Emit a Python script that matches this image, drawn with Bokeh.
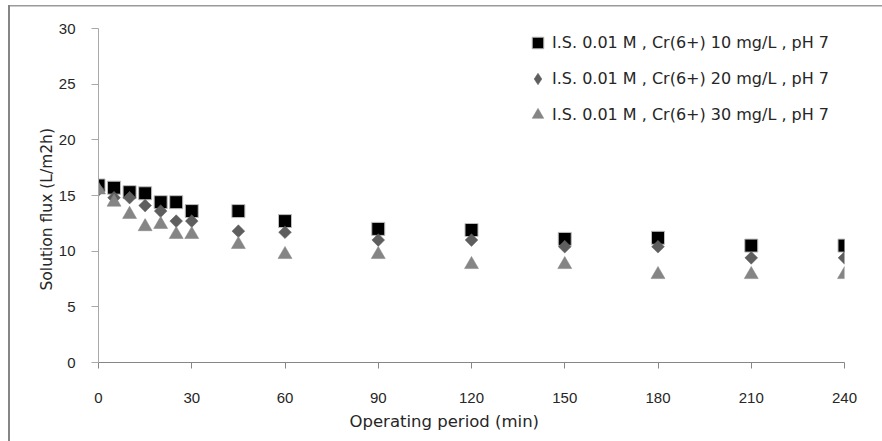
from bokeh.plotting import figure
from bokeh.models import FixedTicker, Legend, LegendItem, ColumnDataSource, Title
from bokeh.embed import file_html
from bokeh.resources import INLINE
import math

# ---- data ----
time_min = [0, 5, 10, 15, 20, 25, 30, 45, 60, 90, 120, 150, 180, 210, 240]
flux_10 = [15.9, 15.7, 15.3, 15.2, 14.4, 14.4, 13.6, 13.6, 12.7, 12.0, 11.9, 11.1, 11.2, 10.5, 10.5]
flux_20 = [15.5, 14.8, 14.8, 14.1, 13.6, 12.7, 12.7, 11.8, 11.7, 11.0, 11.0, 10.4, 10.4, 9.4, 9.4]
flux_30 = [15.5, 14.4, 13.3, 12.2, 12.4, 11.5, 11.5, 10.6, 9.7, 9.7, 8.8, 8.8, 7.9, 7.9, 7.9]
series_labels = [
    "I.S. 0.01 M , Cr(6+) 10 mg/L , pH 7",
    "I.S. 0.01 M , Cr(6+) 20 mg/L , pH 7",
    "I.S. 0.01 M , Cr(6+) 30 mg/L , pH 7",
]
x_ticks = [0, 30, 60, 90, 120, 150, 180, 210, 240]
y_ticks = [0, 5, 10, 15, 20, 25, 30]
x_title = "Operating period (min)"
y_title = "Solution  flux (L/m2h)"

FONT_NUM = "Liberation Sans"
FONT_TXT = "DejaVu Sans"
TXT_COLOR = "#262626"
C_SQ, C_DI, C_TR = "black", "#5e5e5e", "#858585"

p = figure(
    width=882, height=441,
    x_range=(0, 240), y_range=(0, 30),
    output_backend="svg", toolbar_location=None,
    min_border_left=98, min_border_right=38, min_border_top=28, min_border_bottom=79,
)
p.styles = {
    "background-color": "white",
    "background-image": "linear-gradient(#858585, #858585), linear-gradient(#9a9a9a, #9a9a9a)",
    "background-size": "2px 440px, 874px 1.5px",
    "background-position": "8px 5px, 8px 5px",
    "background-repeat": "no-repeat",
}
p.border_fill_color = None
p.background_fill_color = "white"
p.outline_line_color = None
p.grid.visible = False

src = ColumnDataSource(dict(t=time_min, a=flux_10, b=flux_20, c=flux_30))

r1 = p.scatter("t", "a", source=src, marker="square", size=13,
               fill_color=C_SQ, line_color="#bdbdbd", line_width=1)
r2 = p.scatter("t", "b", source=src, marker="square", size=9, angle=math.pi / 4,
               fill_color=C_DI, line_color=C_DI, line_width=0.5)
r3 = p.scatter("t", "c", source=src, marker="triangle", size=14,
               fill_color=C_TR, line_color=C_TR, line_width=0.5)
# legend-only swatch for the diamond series (legend markers are drawn unrotated)
r2_key = p.scatter(x=[float("nan")], y=[float("nan")], marker="diamond",
                   fill_color=C_DI, line_color=C_DI, line_width=0.5)

# axes
xa = p.xaxis[0]
xa.ticker = FixedTicker(ticks=x_ticks)
xa.axis_line_color = "#868686"
xa.major_tick_line_color = "#868686"
xa.major_tick_out = 6
xa.major_tick_in = 0
xa.minor_tick_line_color = None
xa.major_label_text_font = FONT_NUM
xa.major_label_text_font_size = "15px"
xa.major_label_text_color = TXT_COLOR
xa.major_label_standoff = 24

ya = p.yaxis[0]
ya.ticker = FixedTicker(ticks=y_ticks)
ya.axis_line_color = "#a8a8a8"
ya.major_tick_line_color = "#a8a8a8"
ya.major_tick_out = 7
ya.major_tick_in = 0
ya.minor_tick_line_color = None
ya.major_label_text_font = FONT_NUM
ya.major_label_text_font_size = "15px"
ya.major_label_text_color = TXT_COLOR
ya.major_label_standoff = 16

# axis titles as side titles (allow an off-centre position like the reference)
p.add_layout(Title(text=x_title, align="left", offset=251, standoff=8,
                   text_font=FONT_TXT, text_font_size="16.5px", text_font_style="normal",
                   text_color=TXT_COLOR), "below")
p.add_layout(Title(text=y_title, align="left", offset=72, standoff=0,
                   text_font=FONT_TXT, text_font_size="15.5px", text_font_style="normal",
                   text_color=TXT_COLOR), "left")

legend = Legend(
    items=[LegendItem(label=series_labels[0], renderers=[r1]),
           LegendItem(label=series_labels[1], renderers=[r2_key]),
           LegendItem(label=series_labels[2], renderers=[r3])],
    location=(425, 233),
    glyph_width=29, glyph_height=29, label_height=29,
    spacing=7, padding=0, margin=0, label_standoff=0,
    border_line_color=None, background_fill_alpha=0,
    label_text_font=FONT_TXT, label_text_font_size="16px", label_text_color=TXT_COLOR,
)
p.add_layout(legend)

open("out.html", "w").write(file_html(p, INLINE))
